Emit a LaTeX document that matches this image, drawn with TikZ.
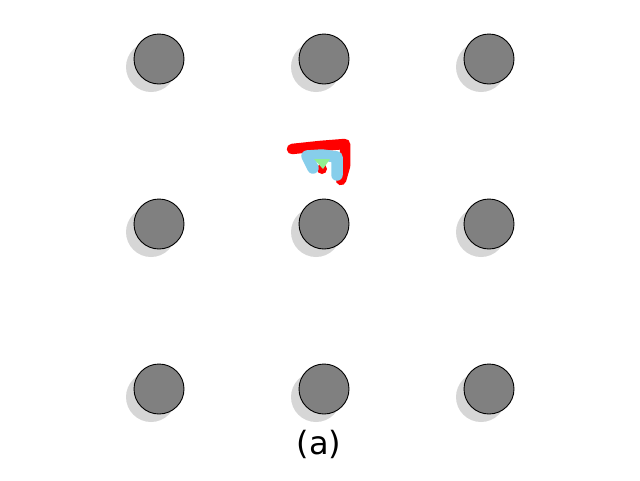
\documentclass[tikz,border=0pt]{standalone}
\usepackage{fontspec}
\setmainfont{DejaVu Sans}
\definecolor{skyb}{RGB}{135,206,235}
\definecolor{lgreen}{RGB}{144,238,144}
\begin{document}
\begin{tikzpicture}[x=1pt,y=-1pt,
  shadow/.style={fill=black!16},
  disk/.style={fill=black!50,draw=black,line width=0.9pt},
  redstroke/.style={draw=red,line width=10.5pt,line cap=round,line join=round},
  bluestroke/.style={draw=skyb,line width=11.5pt,line cap=round,line join=round}]
\useasboundingbox (0,0) rectangle (640,480);
\foreach \i/\x in {1/159,2/324,3/489}{
  \foreach \j/\y in {1/59,2/224,3/389}{
    \fill[shadow] (\x-8,\y+8) circle (25);
    \node[disk,circle,minimum size=50pt,inner sep=0pt] (c\i\j) at (\x,\y) {};
  }
}
\draw[redstroke] (292,149) -- (320,146) -- (345,144) -- (345,166) -- (341,180);
\fill[red] (322,169) circle (5);
\draw[bluestroke] (313,168) -- (307,156) -- (322,155) -- (337,157) -- (337,175);
\fill[lgreen] (314,159) -- (330,159) -- (323,169) -- cycle;
\node[font=\fontsize{32}{36}\selectfont] (lbl) at (319,444) {(a)};
\end{tikzpicture}
\end{document}
